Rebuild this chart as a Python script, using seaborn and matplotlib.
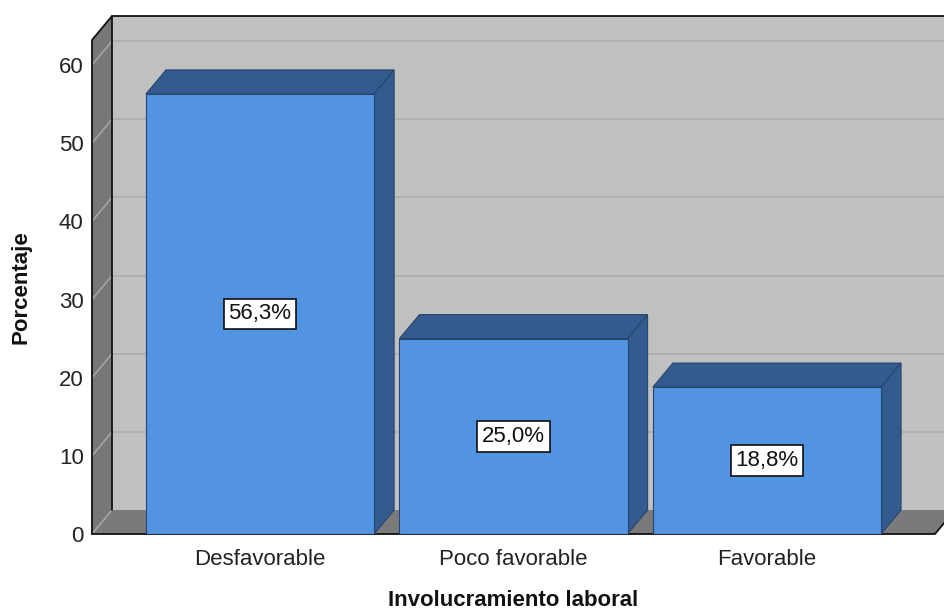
import matplotlib
matplotlib.use("Agg")
import matplotlib.pyplot as plt
from matplotlib.patches import Polygon
import pandas as pd
import seaborn as sns

# Data
categories = ["Desfavorable", "Poco favorable", "Favorable"]
percentages = [56.3, 25.0, 18.8]
y_ticks = [0, 10, 20, 30, 40, 50, 60]

# Style
FRONT = "#5294e2"
SHADE = "#335b8f"
BAR_EDGE = "#27466e"
BACK_WALL = "#c0c0c0"
SIDE_WALL = "#777777"
FLOOR = "#7a7a7a"
GRID_BACK = "#acacac"
GRID_SIDE = "#a4a4a4"
X_MIN, X_MAX = -0.663, 2.663
Y_MIN, Y_MAX = 0, 63.2
DX, DY = 0.079, 3.07          # depth of the pseudo-3D box in data units

sns.set_theme(style="white")
plt.rcParams["font.family"] = ["Liberation Sans", "DejaVu Sans"]

fig = plt.figure(figsize=(9.44, 6.13), dpi=100)
ax = fig.add_axes([92 / 944, 1 - 534 / 613, 843 / 944, 494 / 613])
ax.set_facecolor("none")

df = pd.DataFrame({"Involucramiento laboral": categories, "Porcentaje": percentages})
sns.barplot(data=df, x="Involucramiento laboral", y="Porcentaje", order=categories,
            color=FRONT, saturation=1, width=0.9, edgecolor=BAR_EDGE,
            linewidth=0.8, ax=ax, zorder=5)

ax.set_xlim(X_MIN, X_MAX)
ax.set_ylim(Y_MIN, Y_MAX)

# Back wall, side wall and floor of the box
ax.add_patch(Polygon([(X_MIN + DX, Y_MIN + DY), (X_MAX + DX, Y_MIN + DY),
                      (X_MAX + DX, Y_MAX + DY), (X_MIN + DX, Y_MAX + DY)],
                     closed=True, fc=BACK_WALL, ec="none", clip_on=False, zorder=0.1))
ax.add_patch(Polygon([(X_MIN, Y_MIN), (X_MIN + DX, Y_MIN + DY),
                      (X_MIN + DX, Y_MAX + DY), (X_MIN, Y_MAX)],
                     closed=True, fc=SIDE_WALL, ec="none", clip_on=False, zorder=0.3))
for v in y_ticks[1:]:
    ax.plot([X_MIN + DX, X_MAX + DX], [v + DY, v + DY], color=GRID_BACK, lw=1.2,
            clip_on=False, zorder=0.2)
    ax.plot([X_MIN, X_MIN + DX], [v, v + DY], color=GRID_SIDE, lw=1.2,
            clip_on=False, zorder=0.4)
ax.add_patch(Polygon([(X_MIN, Y_MIN), (X_MAX, Y_MIN),
                      (X_MAX + DX, Y_MIN + DY), (X_MIN + DX, Y_MIN + DY)],
                     closed=True, fc=FLOOR, ec="none", clip_on=False, zorder=0.5))
ax.plot([X_MIN, X_MIN + DX], [Y_MIN, Y_MIN + DY], color=GRID_SIDE, lw=1.2,
        clip_on=False, zorder=0.6)

# Box outlines
outline = dict(color="#111111", lw=1.3, clip_on=False, zorder=0.7)
ax.plot([X_MIN, X_MIN, X_MIN + DX, X_MAX + DX], [Y_MIN, Y_MAX, Y_MAX + DY, Y_MAX + DY], **outline)
ax.plot([X_MIN + DX, X_MIN + DX], [Y_MIN + DY, Y_MAX + DY], **outline)
ax.plot([X_MIN, X_MAX, X_MAX + DX], [Y_MIN, Y_MIN, Y_MIN + DY], **outline)

# Top and side faces of each bar, plus the value label
for p, val in zip(ax.patches[:len(categories)], percentages):
    x0, w, h = p.get_x(), p.get_width(), p.get_height()
    ax.add_patch(Polygon([(x0, h), (x0 + w, h), (x0 + w + DX, h + DY), (x0 + DX, h + DY)],
                         closed=True, fc=SHADE, ec=BAR_EDGE, lw=0.8,
                         clip_on=False, zorder=4))
    ax.add_patch(Polygon([(x0 + w, 0), (x0 + w, h), (x0 + w + DX, h + DY), (x0 + w + DX, DY)],
                         closed=True, fc=SHADE, ec=BAR_EDGE, lw=0.8,
                         clip_on=False, zorder=4))
    label = f"{val:.1f}%".replace(".", ",")
    ax.text(x0 + w / 2, h / 2, label, ha="center", va="center", fontsize=16,
            color="#111111", zorder=7,
            bbox=dict(boxstyle="square,pad=0.22", fc="white", ec="#111111", lw=1.2))

for s in ax.spines.values():
    s.set_visible(False)
ax.set_yticks(y_ticks)
ax.tick_params(axis="both", length=0, labelsize=16, labelcolor="#222222")
ax.tick_params(axis="y", pad=6)
ax.tick_params(axis="x", pad=11)
ax.set_xlabel("Involucramiento laboral", fontsize=16, fontweight="bold",
              color="#111111", labelpad=14)
ax.set_ylabel("Porcentaje", fontsize=16, fontweight="bold", color="#111111",
              labelpad=20)

fig.savefig("out.png", dpi=100)
